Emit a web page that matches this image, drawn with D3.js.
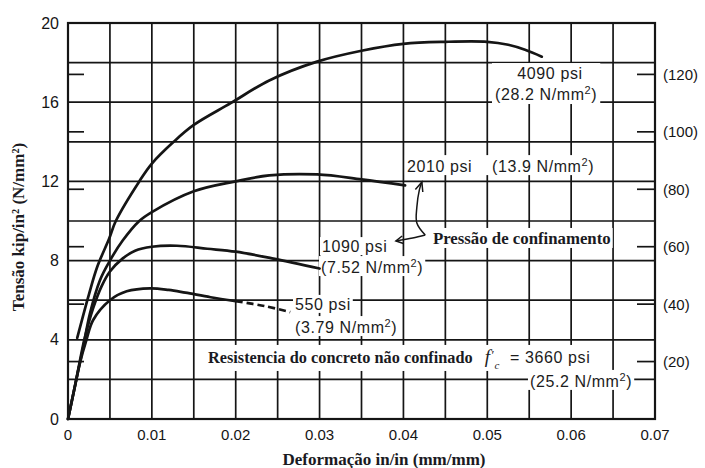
<!DOCTYPE html>
<html><head><meta charset="utf-8">
<script src="https://cdn.jsdelivr.net/npm/d3@7"></script>
<style>body{margin:0;background:#fff}</style>
</head><body><svg id="c" width="705" height="468"></svg>
<script>
// ---- data ----
const xTicks = [0, 0.01, 0.02, 0.03, 0.04, 0.05, 0.06, 0.07];
const xTickLabels = ["0", "0.01", "0.02", "0.03", "0.04", "0.05", "0.06", "0.07"];
const yTicks = [0, 4, 8, 12, 16, 20];
const yTickLabels = ["0", "4", "8", "12", "16", "20"];
const mpaTicks = [20, 40, 60, 80, 100, 120];
const mpaTickLabels = ["(20)", "(40)", "(60)", "(80)", "(100)", "(120)"];
const xGrid = [0.005,0.01,0.015,0.02,0.025,0.03,0.035,0.04,0.045,0.05,0.055,0.06,0.065];
const yGrid = [2,4,6,8,10,12,14,16,18];

const curve4090 = [[0.0011,4.1],[0.0025,6.3],[0.0035,7.7],[0.0049,9.1],[0.0057,10.0],[0.0085,12.0],[0.010,12.9],[0.0126,14.0],[0.015,14.85],[0.0194,15.95],[0.024,17.1],[0.0297,18.05],[0.035,18.6],[0.040,18.95],[0.045,19.05],[0.050,19.05],[0.0525,18.9],[0.0545,18.65],[0.0565,18.3]];
const curve2010 = [[0,0],[0.0008,1.6],[0.0014,2.8],[0.0018,3.6],[0.0026,5.3],[0.0038,7.0],[0.005,8.0],[0.0065,9.0],[0.0085,10.0],[0.010,10.45],[0.015,11.5],[0.020,12.0],[0.024,12.3],[0.0297,12.35],[0.035,12.1],[0.0402,11.8]];
const curve1090 = [[0,0],[0.0008,1.6],[0.0014,2.9],[0.002,4.1],[0.003,5.6],[0.004,6.7],[0.005,7.45],[0.0065,8.1],[0.008,8.5],[0.010,8.7],[0.013,8.75],[0.0166,8.6],[0.020,8.45],[0.0245,8.1],[0.030,7.6]];
const curve550 = [[0,0],[0.0008,1.6],[0.0014,2.8],[0.0022,4.0],[0.003,5.0],[0.005,6.0],[0.007,6.45],[0.0098,6.6],[0.012,6.52],[0.014,6.38],[0.017,6.15],[0.020,5.95]];
const curve550dash = [[0.020,5.95],[0.0235,5.7],[0.0265,5.4]];
const arrowUp = [[0.0426,9.29],[0.0416,9.9],[0.0416,10.7],[0.0419,11.57],[0.0422,11.97]];
const arrowLeft = [[0.0426,9.29],[0.0411,9.14],[0.0391,8.99]];

// ---- scales ----
const svg = d3.select("#c");
const x = d3.scaleLinear().domain([0, 0.07]).range([68, 655]);
const y = d3.scaleLinear().domain([0, 20]).range([419, 23]);
const yM = d3.scaleLinear().domain([0, 20*6.895]).range([419, 23]);
const ink = "#151515";
const sans = "'Liberation Sans', Arial, sans-serif";
const serif = "'Liberation Serif', 'Times New Roman', serif";

// grid
const grid = svg.append("g").attr("stroke", ink).attr("stroke-width", 1.7);
grid.selectAll(".vg").data(xGrid).enter().append("line")
  .attr("x1", d => x(d)).attr("x2", d => x(d)).attr("y1", y(0)).attr("y2", y(20));
grid.selectAll(".hg").data(yGrid).enter().append("line")
  .attr("y1", d => y(d)).attr("y2", d => y(d)).attr("x1", x(0)).attr("x2", x(0.07));
grid.selectAll(".lt").data(mpaTicks).enter().append("line")
  .attr("y1", d => yM(d)).attr("y2", d => yM(d)).attr("x1", x(0)).attr("x2", x(0) + 16);
grid.selectAll(".rt").data(mpaTicks).enter().append("line")
  .attr("y1", d => yM(d)).attr("y2", d => yM(d)).attr("x1", x(0.07)).attr("x2", x(0.07) - 18);

const boxLayer = svg.append("g");
const curveLayer = svg.append("g");
const textLayer = svg.append("g");

// axis tick labels
svg.append("g").selectAll("text").data(xTicks).enter().append("text")
  .attr("x", d => x(d)).attr("y", 440).attr("text-anchor", "middle")
  .attr("font-family", sans).attr("font-size", 15).attr("fill", ink)
  .text((d, i) => xTickLabels[i]);
svg.append("g").selectAll("text").data(yTicks).enter().append("text")
  .attr("x", 59).attr("y", d => y(d) + 5.5).attr("text-anchor", "end")
  .attr("font-family", sans).attr("font-size", 16).attr("fill", ink)
  .text((d, i) => yTickLabels[i]);
svg.append("g").selectAll("text").data(mpaTicks).enter().append("text")
  .attr("x", 663).attr("y", d => yM(d) + 5.5).attr("text-anchor", "start")
  .attr("font-family", sans).attr("font-size", 15).attr("fill", ink)
  .text((d, i) => mpaTickLabels[i]);

// axis titles
svg.append("text").attr("transform", "translate(24,227) rotate(-90)")
  .attr("text-anchor", "middle").attr("font-family", serif).attr("font-weight", "bold")
  .attr("font-size", 17).attr("fill", "#1a1a22").text("Tensão kip/in² (N/mm²)");
svg.append("text").attr("x", 384).attr("y", 465)
  .attr("text-anchor", "middle").attr("font-family", serif).attr("font-weight", "bold")
  .attr("font-size", 17).attr("fill", "#1a1a22").text("Deformação in/in (mm/mm)");

// frame
svg.append("rect").attr("x", x(0)).attr("y", y(20)).attr("width", x(0.07) - x(0))
  .attr("height", y(0) - y(20)).attr("fill", "none").attr("stroke", ink).attr("stroke-width", 2.2);

// curves
const line = d3.line().x(d => x(d[0])).y(d => y(d[1])).curve(d3.curveCatmullRom.alpha(0.5));
[curve4090, curve2010, curve1090, curve550].forEach(c => {
  curveLayer.append("path").attr("d", line(c)).attr("fill", "none")
    .attr("stroke", ink).attr("stroke-width", 2.7).attr("stroke-linecap", "round");
});
curveLayer.append("path").attr("d", line(curve550dash)).attr("fill", "none")
  .attr("stroke", ink).attr("stroke-width", 2.7).attr("stroke-dasharray", "7,4");

// arrows
const aline = d3.line().x(d => x(d[0])).y(d => y(d[1])).curve(d3.curveCatmullRom);
[arrowUp, arrowLeft].forEach(a => {
  curveLayer.append("path").attr("d", aline(a)).attr("fill", "none")
    .attr("stroke", ink).attr("stroke-width", 1.5);
});
function head(tip, prev, len, spread) {
  const tx = x(tip[0]), ty = y(tip[1]), px = x(prev[0]), py = y(prev[1]);
  const ang = Math.atan2(ty - py, tx - px);
  const p1 = [tx - len * Math.cos(ang - spread), ty - len * Math.sin(ang - spread)];
  const p2 = [tx - len * Math.cos(ang + spread), ty - len * Math.sin(ang + spread)];
  curveLayer.append("path").attr("d", `M${p1}L${tx},${ty}L${p2}`).attr("fill", "none")
    .attr("stroke", ink).attr("stroke-width", 1.5);
}
head(arrowUp[arrowUp.length - 1], arrowUp[arrowUp.length - 2], 10, 0.4);
head(arrowLeft[arrowLeft.length - 1], arrowLeft[arrowLeft.length - 2], 8, 0.5);

// annotation text helpers
function addText(g, xv, yv, parts, opt) {
  const t = g.append("text").attr("x", x(xv)).attr("y", y(yv))
    .attr("text-anchor", opt.anchor || "start")
    .attr("font-family", opt.family || sans).attr("font-size", opt.size || 16)
    .attr("font-weight", opt.weight || "normal").attr("fill", opt.fill || "#1c1c1c")
    .attr("letter-spacing", opt.ls || 0);
  parts.forEach(p => {
    const s = t.append("tspan").text(p.t);
    if (p.sup) s.attr("font-size", 11).attr("dy", -6);
    if (p.after) s.attr("dy", 6);
  });
  return t;
}
function box(nodes, pad) {
  const bbs = nodes.map(n => n.node().getBBox());
  const x0 = d3.min(bbs, b => b.x) - pad, y0 = d3.min(bbs, b => b.y) - pad + 1;
  const x1 = d3.max(bbs, b => b.x + b.width) + pad, y1 = d3.max(bbs, b => b.y + b.height) + pad - 2;
  boxLayer.append("rect").attr("x", x0).attr("y", y0).attr("width", x1 - x0).attr("height", y1 - y0).attr("fill", "#fff");
}
const nm = v => [{t: "(" + v + " N/mm"}, {t: "2", sup: true}, {t: ")", after: true}];
const S = {ls: 0.6, size: 16};
const B = {family: serif, weight: "bold", size: 16.8, fill: "#1a1a22"};

const t4090a = addText(textLayer, 0.05748, 17.17, [{t: "4090 psi"}], {...S, anchor: "middle"});
const t4090b = addText(textLayer, 0.05092, 16.11, nm("28.2"), S);
box([t4090a, t4090b], 3);
const t2010a = addText(textLayer, 0.04042, 12.47, [{t: "2010 psi"}], S);
const t2010b = addText(textLayer, 0.05056, 12.47, nm("13.9"), S);
box([t2010a, t2010b], 2);
const t1090a = addText(textLayer, 0.03029, 8.43, [{t: "1090 psi"}], S);
box([t1090a], 2);
const t1090b = addText(textLayer, 0.03017, 7.37, nm("7.52"), S);
box([t1090b], 2);
const tP = addText(textLayer, 0.04352, 8.84, [{t: "Pressão de confinamento"}], B);
box([tP], 2);
const t550a = addText(textLayer, 0.02707, 5.51, [{t: "550 psi"}], S);
box([t550a], 2);
const t550b = addText(textLayer, 0.02707, 4.34, nm("3.79"), S);
box([t550b], 2);

// "Resistencia do concreto não confinado f′c = 3660 psi" as one text element
const tR = textLayer.append("text").attr("y", y(2.83)).attr("fill", "#1a1a22");
tR.append("tspan").attr("x", x(0.01669)).attr("font-family", serif).attr("font-weight", "bold")
  .attr("font-size", 16.3).text("Resistencia do concreto não confinado");
tR.append("tspan").attr("x", x(0.0497)).attr("font-family", serif).attr("font-style", "italic")
  .attr("font-size", 19).text("f");
tR.append("tspan").attr("font-family", serif).attr("font-size", 13).attr("dx", 1.5).attr("dy", -4).text("′");
tR.append("tspan").attr("font-family", serif).attr("font-style", "italic").attr("font-size", 11)
  .attr("dx", 0).attr("dy", 10).text("c");
tR.append("tspan").attr("x", x(0.05271)).attr("y", y(2.83)).attr("font-family", sans)
  .attr("font-size", 16).attr("letter-spacing", 0.6).attr("fill", "#1c1c1c").text("= 3660 psi");
box([tR], 2);
const t252 = addText(textLayer, 0.05509, 1.62, nm("25.2"), S);
box([t252], 2);
</script>
</body></html>
